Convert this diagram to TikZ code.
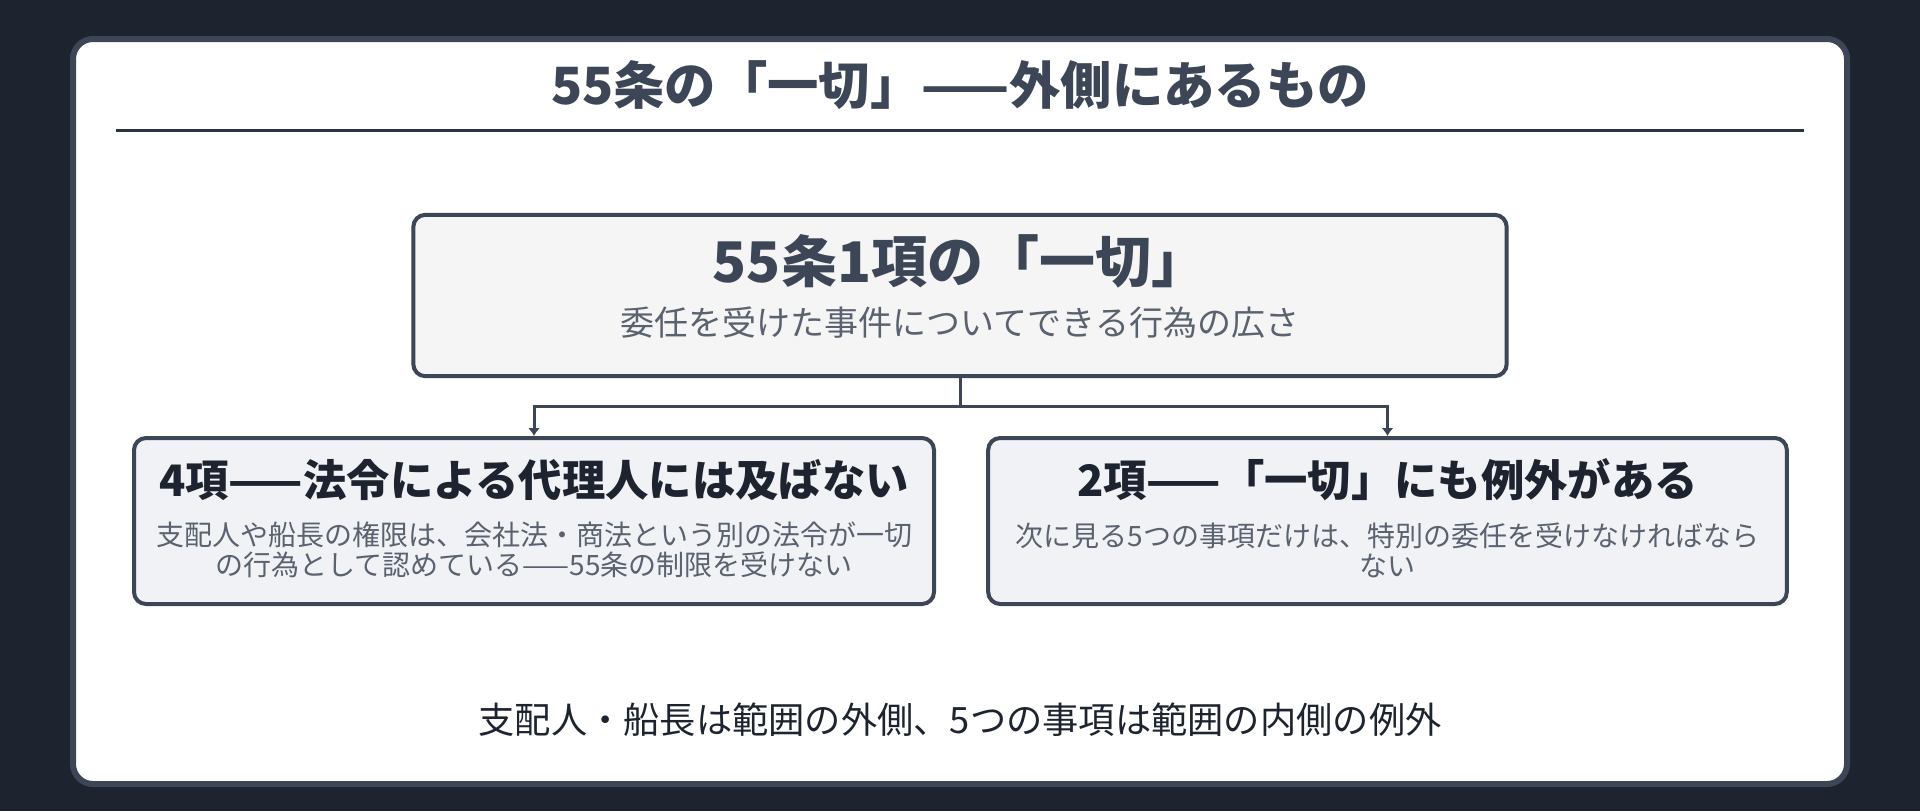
\documentclass[tikz,border=0pt]{standalone}
\usepackage{fontspec}
\setmainfont{Noto Sans CJK JP}
\usetikzlibrary{arrows.meta}

\definecolor{bgdark}{HTML}{1E242F}
\definecolor{edge}{HTML}{3C4656}
\definecolor{rulecol}{HTML}{2D3340}
\definecolor{topfill}{HTML}{F5F5F5}
\definecolor{subfill}{HTML}{F0F2F5}
\definecolor{headtext}{HTML}{3C4656}
\definecolor{darktext}{HTML}{1E242F}
\definecolor{softtext}{HTML}{5A6270}

\begin{document}
\begin{tikzpicture}[x=0.75pt, y=-0.75pt,
  box/.style={draw=edge, line width=3pt, rounded corners=9pt},
  conn/.style={draw=edge, line width=2.25pt, -{Latex[length=6pt,width=9pt]}},
  head/.style={text=darktext, font=\fontsize{32.5pt}{38pt}\selectfont\bfseries},
  body/.style={text=softtext, align=center, font=\fontsize{21pt}{22.5pt}\selectfont}]

% background and card
\fill[bgdark] (0,0) rectangle (1920,811);
\path[use as bounding box] (0,0) rectangle (1920,811);
\draw[edge, fill=white, line width=4.5pt, rounded corners=15pt] (73,39) rectangle (1847,784);

% title
\node[text=headtext, font=\fontsize{38.5pt}{46pt}\selectfont\bfseries] (title) at (960,85) {55条の「一切」——外側にあるもの};
\draw[rulecol, line width=2.25pt] (116,130) -- (1804,130);

% top box
\node[box, fill=topfill, minimum width=820pt, minimum height=121pt] (top) at (960,295.5) {};
\node[text=headtext, font=\fontsize{42pt}{50pt}\selectfont\bfseries] (toptitle) at (960,261) {55条1項の「一切」};
\node[text=softtext, font=\fontsize{25.5pt}{30pt}\selectfont] (topsub) at (960,323) {委任を受けた事件についてできる行為の広さ};

% lower boxes
\node[box, fill=subfill, minimum width=600pt, minimum height=124.5pt] (left) at (534,521) {};
\node[box, fill=subfill, minimum width=599pt, minimum height=124.5pt] (right) at (1387.5,521) {};

\node[head] (lefthead) at (534,480) {4項——法令による代理人には及ばない};
\node[body] (leftbody) at (534,550) {支配人や船長の権限は、会社法・商法という別の法令が一切\\の行為として認めている——55条の制限を受けない};

\node[head] (righthead) at (1387.5,480) {2項——「一切」にも例外がある};
\node[body] (rightbody) at (1387.5,550) {次に見る5つの事項だけは、特別の委任を受けなければなら\\ない};

% connectors
\draw[conn] (top.south) -- ++(0,28) -| (left.north);
\draw[conn] (top.south) -- ++(0,28) -| (right.north);

% bottom note
\node[text=darktext, font=\fontsize{27.2pt}{33pt}\selectfont] (note) at (960,720) {支配人・船長は範囲の外側、5つの事項は範囲の内側の例外};

\end{tikzpicture}
\end{document}
